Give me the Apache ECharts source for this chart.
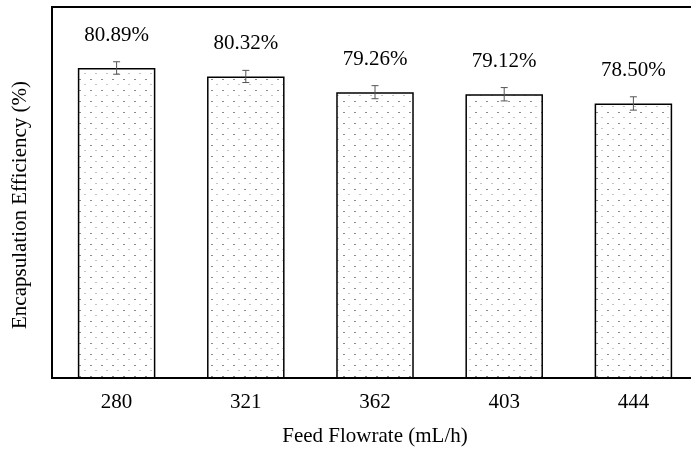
<!DOCTYPE html>
<html>
<head>
<meta charset="utf-8">
<script src="https://cdn.jsdelivr.net/npm/echarts@6/dist/echarts.min.js"></script>
<style>
  html, body { margin: 0; padding: 0; background: #fff; }
  #chart { width: 691px; height: 452px; }
</style>
</head>
<body>
<div id="chart"></div>
<script>
// data
const flowrates = ["280", "321", "362", "403", "444"];
const efficiency = [80.89, 80.32, 79.26, 79.12, 78.50];
const errors = [0.42, 0.41, 0.44, 0.45, 0.45];

const font = "Liberation Serif, Times New Roman, serif";

// dotted fill like the original
function dotPattern() {
  const c = document.createElement("canvas");
  c.width = 11;
  c.height = 11;
  const ctx = c.getContext("2d");
  ctx.fillStyle = "#fff";
  ctx.fillRect(0, 0, 11, 11);
  ctx.fillStyle = "#8a8a8a";
  ctx.fillRect(2, 2, 2, 1);
  ctx.fillStyle = "#c4c4c4";
  ctx.fillRect(7, 7, 2, 1);
  return c;
}

const myChart = echarts.init(document.getElementById("chart"));

const errData = flowrates.map((c, i) => [i, efficiency[i] + errors[i], efficiency[i] - errors[i]]);

const option = {
  backgroundColor: "#fff",
  animation: false,
  grid: {
    left: 52, top: 7, width: 646, height: 371,
    outerBoundsMode: "none",
    show: true, borderColor: "#000", borderWidth: 2, backgroundColor: "transparent"
  },
  xAxis: [
    {
      type: "category",
      data: flowrates,
      z: 10,
      name: "Feed Flowrate (mL/h)",
      nameLocation: "middle",
      nameGap: 48,
      nameTextStyle: { fontFamily: font, fontSize: 21, color: "#000" },
      axisLine: { lineStyle: { color: "#000", width: 2 } },
      axisTick: { inside: true, alignWithLabel: true, length: 7, lineStyle: { color: "#555" } },
      axisLabel: { fontFamily: font, fontSize: 21, color: "#000", margin: 14 }
    },
    {
      type: "category",
      data: flowrates,
      position: "bottom",
      z: 10,
      axisLine: { show: false },
      axisTick: { alignWithLabel: true, length: 5, lineStyle: { color: "#555" } },
      axisLabel: { show: false }
    }
  ],
  yAxis: {
    type: "value",
    min: 60,
    max: 85,
    axisLine: { show: true, lineStyle: { color: "#000", width: 2 } },
    axisTick: { show: false },
    axisLabel: { show: false },
    splitLine: { show: false }
  },
  graphic: [
    {
      type: "text",
      x: 20,
      y: 205,
      rotation: Math.PI / 2,
      style: {
        text: "Encapsulation Efficiency (%)",
        fontFamily: font,
        fontSize: 21,
        fill: "#000",
        align: "center",
        verticalAlign: "middle"
      }
    }
  ],
  series: [
    {
      type: "bar",
      data: efficiency,
      barWidth: "60%",
      itemStyle: {
        color: { image: dotPattern(), repeat: "repeat" },
        borderColor: "#000",
        borderWidth: 1.5
      },
      label: {
        show: true,
        position: "top",
        distance: 22,
        fontFamily: font,
        fontSize: 21,
        color: "#000",
        formatter: (p) => p.value.toFixed(2) + "%"
      }
    },
    {
      type: "custom",
      data: errData,
      z: 5,
      encode: { x: 0, y: [1, 2] },
      renderItem: function (params, api) {
        const x = api.value(0);
        const hi = api.coord([x, api.value(1)]);
        const lo = api.coord([x, api.value(2)]);
        const w = 3.5;
        const st = { stroke: "#555", lineWidth: 1 };
        return {
          type: "group",
          children: [
            { type: "line", shape: { x1: hi[0], y1: hi[1], x2: lo[0], y2: lo[1] }, style: st },
            { type: "line", shape: { x1: hi[0] - w, y1: hi[1], x2: hi[0] + w, y2: hi[1] }, style: st },
            { type: "line", shape: { x1: lo[0] - w, y1: lo[1], x2: lo[0] + w, y2: lo[1] }, style: st }
          ]
        };
      }
    }
  ]
};

myChart.setOption(option);
</script>
</body>
</html>
